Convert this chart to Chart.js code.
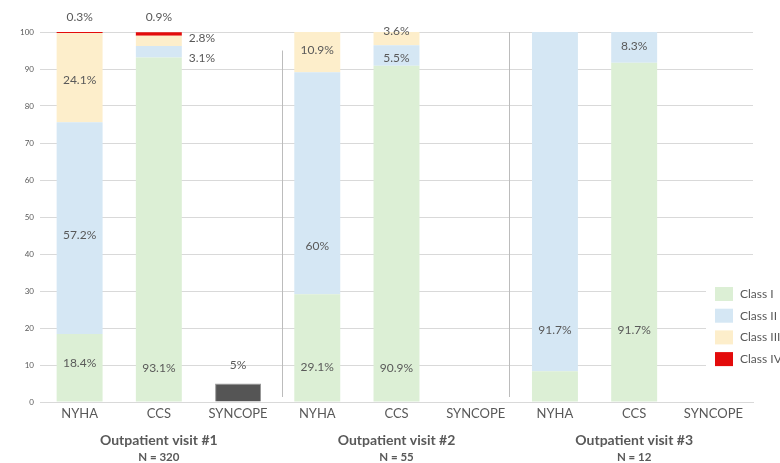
<!DOCTYPE html>
<html>
<head>
<meta charset="utf-8">
<script src="https://cdn.jsdelivr.net/npm/chart.js@4.4.1/dist/chart.umd.min.js"></script>
<style>
  html, body { margin: 0; padding: 0; background: #fff; }
  #wrap { width: 780px; height: 463px; position: relative; }
</style>
</head>
<body>
<div id="wrap"><canvas id="chart"></canvas></div>
<script>
const categories = ["NYHA", "CCS", "SYNCOPE", "NYHA", "CCS", "SYNCOPE", "NYHA", "CCS", "SYNCOPE"];
const visits = ["Outpatient visit #1", "Outpatient visit #2", "Outpatient visit #3"];
const visitCounts = ["N = 320", "N = 55", "N = 12"];

// percentages per class, one entry per category
const classI = [18.4, 93.1, null, 29.1, 90.9, null, 8.3, 91.7, null];
const classII = [57.2, 3.1, null, 60, 5.5, null, 91.7, 8.3, null];
const classIII = [24.1, 2.8, null, 10.9, 3.6, null, null, null, null];
const classIV = [0.3, 0.9, null, null, null, null, null, null, null];
const syncope = [null, null, 5, null, null, null, null, null, null];

const yTicks = [0, 10, 20, 30, 40, 50, 60, 70, 80, 90, 100];

const GREY_TEXT = "#595959";
const GRID = "#d9d9d9";

const datasets = [
  {label: "Class I", data: classI, backgroundColor: "#dcefd5"},
  {label: "Class II", data: classII, backgroundColor: "#d5e7f4"},
  {label: "Class III", data: classIII, backgroundColor: "#fdeecb"},
  {label: "Class IV", data: classIV, backgroundColor: "#e30b0b"},
  {label: "Syncope", data: syncope, backgroundColor: "#555555", borderColor: "#9a9a9a", borderWidth: 1},
];

// where each value label sits: dataset, category, height on the y scale, alignment
const labelSpots = [
  {ds: 0, i: 0, at: 10.5}, {ds: 1, i: 0, at: 45.1}, {ds: 2, i: 0, at: 87}, {ds: 3, i: 0, at: 104},
  {ds: 0, i: 1, at: 9.2}, {ds: 1, i: 1, at: 93, side: true}, {ds: 2, i: 1, at: 98.4, side: true}, {ds: 3, i: 1, at: 104},
  {ds: 4, i: 2, at: 10},
  {ds: 0, i: 3, at: 9.5}, {ds: 1, i: 3, at: 42}, {ds: 2, i: 3, at: 95},
  {ds: 0, i: 4, at: 9.2}, {ds: 1, i: 4, at: 93}, {ds: 2, i: 4, at: 100.3},
  {ds: 1, i: 6, at: 19.5},
  {ds: 0, i: 7, at: 19.5}, {ds: 1, i: 7, at: 96.2},
];

const valueLabels = {
  id: "valueLabels",
  afterDatasetsDraw(chart) {
    const {ctx} = chart;
    const y = chart.scales.y;
    ctx.save();
    ctx.font = "12px Lato";
    ctx.fillStyle = GREY_TEXT;
    ctx.textBaseline = "middle";
    labelSpots.forEach(s => {
      const bar = chart.getDatasetMeta(s.ds).data[s.i];
      const v = chart.data.datasets[s.ds].data[s.i];
      if (s.side) {
        ctx.textAlign = "left";
        ctx.fillText(v + "%", bar.x + bar.width / 2 + 7, y.getPixelForValue(s.at));
      } else {
        ctx.textAlign = "center";
        ctx.fillText(v + "%", bar.x, y.getPixelForValue(s.at));
      }
    });
    ctx.restore();
  },
};

const decorations = {
  id: "decorations",
  afterDraw(chart) {
    const {ctx, chartArea} = chart;
    const x = chart.scales.x;
    const y = chart.scales.y;
    ctx.save();

    // separators between visits
    ctx.strokeStyle = "#bcbcbc";
    ctx.lineWidth = 1;
    const seps = [{after: 2, shift: 4, from: 95}, {after: 5, shift: -6, from: 100}];
    seps.forEach(s => {
      const px = Math.round((x.getPixelForValue(s.after) + x.getPixelForValue(s.after + 1)) / 2 + s.shift) + 0.5;
      ctx.beginPath();
      ctx.moveTo(px, y.getPixelForValue(s.from));
      ctx.lineTo(px, chartArea.bottom - 5);
      ctx.stroke();
    });

    // visit titles under the middle category of each group
    ctx.fillStyle = GREY_TEXT;
    ctx.textAlign = "center";
    ctx.textBaseline = "middle";
    visits.forEach((name, g) => {
      const cx = x.getPixelForValue(g * 3 + 1);
      ctx.font = "bold 14px Lato";
      ctx.fillText(name, cx, 440);
      ctx.font = "bold 11.5px Lato";
      ctx.fillText(visitCounts[g], cx, 457);
    });

    // legend box over the right end of the plot
    ctx.fillStyle = "#fff";
    ctx.fillRect(706, 270, 74, 125);
    ctx.font = "12px Lato";
    ctx.textAlign = "left";
    chart.data.datasets.slice(0, 4).forEach((ds, k) => {
      const cy = 294 + k * 21.7;
      ctx.fillStyle = ds.backgroundColor;
      ctx.fillRect(715, cy - 7, 18, 14);
      ctx.fillStyle = GREY_TEXT;
      ctx.fillText(ds.label, 740, cy);
    });
    ctx.restore();
  },
};

new Chart(document.getElementById("chart"), {
  type: "bar",
  data: {labels: categories, datasets},
  options: {
    responsive: true,
    maintainAspectRatio: false,
    animation: false,
    layout: {padding: {top: 32, right: 27, left: 0, bottom: 0}},
    datasets: {bar: {barPercentage: 0.58, categoryPercentage: 1, skipNull: false}},
    plugins: {
      legend: {display: false},
      tooltip: {enabled: false},
    },
    scales: {
      x: {
        stacked: true,
        grid: {display: false, drawTicks: false},
        border: {display: true, color: GRID},
        ticks: {color: GREY_TEXT, font: {family: "Lato", size: 13}, padding: 4},
        afterFit: s => { s.height = 61; },
      },
      y: {
        stacked: true,
        min: 0,
        max: 100,
        afterBuildTicks: s => { s.ticks = yTicks.map(v => ({value: v})); },
        grid: {color: GRID, drawTicks: false},
        border: {display: false},
        ticks: {color: GREY_TEXT, font: {family: "Lato", size: 8}, padding: 6},
        afterFit: s => { s.width = 40; },
      },
    },
  },
  plugins: [valueLabels, decorations],
});
</script>
</body>
</html>
